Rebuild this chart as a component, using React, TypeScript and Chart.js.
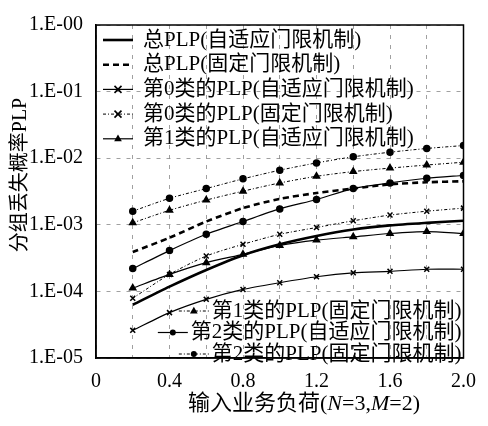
import React, { useEffect, useRef } from "react";
import { Chart, registerables } from "chart.js";

Chart.register(...registerables);

const xLoad = [0.2, 0.4, 0.6, 0.8, 1.0, 1.2, 1.4, 1.6, 1.8, 2.0];
const totalAdaptive = [6.3e-5, 1.18e-4, 2.1e-4, 3.5e-4, 5.1e-4, 6.8e-4, 8.5e-4, 9.8e-4, 1.07e-3, 1.15e-3];
const totalFixed = [3.9e-4, 6.4e-4, 1.12e-3, 1.78e-3, 2.45e-3, 3.0e-3, 3.5e-3, 4.05e-3, 4.35e-3, 4.5e-3];
const class0Adaptive = [2.6e-5, 4.8e-5, 7.6e-5, 1.07e-4, 1.35e-4, 1.66e-4, 1.9e-4, 2.0e-4, 2.15e-4, 2.15e-4];
const class0Fixed = [7.9e-5, 1.8e-4, 3.4e-4, 5.1e-4, 7.2e-4, 9.1e-4, 1.15e-3, 1.4e-3, 1.6e-3, 1.78e-3];
const class1Adaptive = [1.12e-4, 1.8e-4, 2.7e-4, 3.6e-4, 4.9e-4, 5.9e-4, 6.6e-4, 7.4e-4, 7.9e-4, 7.4e-4];
const class1Fixed = [1.07e-3, 1.65e-3, 2.35e-3, 3.2e-3, 4.25e-3, 5.35e-3, 6.3e-3, 7.1e-3, 7.9e-3, 8.7e-3];
const class2Adaptive = [2.2e-4, 4.1e-4, 7.2e-4, 1.12e-3, 1.73e-3, 2.4e-3, 3.5e-3, 4.25e-3, 5.0e-3, 5.5e-3];
const class2Fixed = [1.6e-3, 2.5e-3, 3.5e-3, 4.9e-3, 6.6e-3, 8.5e-3, 1.05e-2, 1.23e-2, 1.4e-2, 1.55e-2];

const seriesNames = [
  "总PLP(自适应门限机制)",
  "总PLP(固定门限机制)",
  "第0类的PLP(自适应门限机制)",
  "第0类的PLP(固定门限机制)",
  "第1类的PLP(自适应门限机制)",
  "第1类的PLP(固定门限机制)",
  "第2类的PLP(自适应门限机制)",
  "第2类的PLP(固定门限机制)",
];
const yDecades = [1e-5, 1e-4, 1e-3, 1e-2, 1e-1, 1];
const xTickLabels = ["0", "0.4", "0.8", "1.2", "1.6", "2.0"];
const yAxisTitle = "分组丢失概率PLP";
const xAxisTitleParts: [string, boolean][] = [
  ["输入业务负荷(", false],
  ["N", true],
  ["=3,", false],
  ["M", true],
  ["=2)", false],
];
const topLegendItems = [0, 1, 2, 3, 4];
const bottomLegendItems = [5, 6, 7];

const FONT = "'Liberation Serif', 'Noto Sans CJK SC', serif";
const DASHDOT = [3, 2, 1, 2];

function pts(ys: number[]) {
  return ys.map((y, i) => ({ x: xLoad[i], y }));
}

function drawMarker(ctx: CanvasRenderingContext2D, style: string, x: number, y: number, r: number) {
  ctx.save();
  ctx.setLineDash([]);
  ctx.fillStyle = "#000";
  ctx.strokeStyle = "#000";
  if (style === "circle") {
    ctx.beginPath();
    ctx.arc(x, y, r, 0, Math.PI * 2);
    ctx.fill();
  } else if (style === "triangle") {
    ctx.beginPath();
    ctx.moveTo(x, y - r * 1.2);
    ctx.lineTo(x + r * 1.1, y + r * 0.7);
    ctx.lineTo(x - r * 1.1, y + r * 0.7);
    ctx.closePath();
    ctx.fill();
  } else if (style === "crossRot") {
    ctx.lineWidth = 1.6;
    ctx.beginPath();
    ctx.moveTo(x - r, y - r);
    ctx.lineTo(x + r, y + r);
    ctx.moveTo(x + r, y - r);
    ctx.lineTo(x - r, y + r);
    ctx.stroke();
  }
  ctx.restore();
}

const decorPlugin = {
  id: "decor",
  afterDraw(chart: any) {
    const ctx: CanvasRenderingContext2D = chart.ctx;
    const a = chart.chartArea;
    ctx.save();
    // frame
    ctx.strokeStyle = "#000";
    ctx.lineWidth = 1.5;
    ctx.setLineDash([]);
    ctx.strokeRect(a.left, a.top, a.right - a.left, a.bottom - a.top);

    const legendFont = `21px ${FONT}`;
    ctx.font = legendFont;
    ctx.textBaseline = "middle";
    const drawSample = (dsIndex: number, x0: number, x1: number, y: number) => {
      const ds = chart.data.datasets[dsIndex];
      ctx.save();
      ctx.strokeStyle = "#000";
      ctx.lineWidth = ds.borderWidth;
      ctx.setLineDash(ds.borderDash || []);
      ctx.beginPath();
      ctx.moveTo(x0, y);
      ctx.lineTo(x1, y);
      ctx.stroke();
      ctx.restore();
      if (ds.pointRadius > 0) drawMarker(ctx, ds.pointStyle, (x0 + x1) / 2, y, ds.pointRadius);
    };
    // top-left legend
    topLegendItems.forEach((idx, i) => {
      const y = a.top + 15 + i * 24.7;
      drawSample(idx, a.left + 7, a.left + 37, y);
      ctx.fillStyle = "#000";
      ctx.textAlign = "left";
      ctx.fillText(seriesNames[idx], a.left + 47, y);
    });
    // bottom-right legend
    bottomLegendItems.forEach((idx, i) => {
      const y = a.bottom - 47 + i * 21.5;
      const xr = a.right - 2;
      const w = ctx.measureText(seriesNames[idx]).width;
      ctx.fillStyle = "#000";
      ctx.textAlign = "right";
      ctx.fillText(seriesNames[idx], xr, y);
      drawSample(idx, xr - w - 33, xr - w - 3, y);
    });

    // x axis title with italic letters
    const fontN = `22px ${FONT}`;
    const fontI = `italic 22px ${FONT}`;
    let total = 0;
    for (const [t, it] of xAxisTitleParts) {
      ctx.font = it ? fontI : fontN;
      total += ctx.measureText(t).width;
    }
    let x = 304 - total / 2;
    ctx.textAlign = "left";
    ctx.textBaseline = "middle";
    for (const [t, it] of xAxisTitleParts) {
      ctx.font = it ? fontI : fontN;
      ctx.fillText(t, x, 404);
      x += ctx.measureText(t).width;
    }
    // y axis title
    ctx.save();
    ctx.translate(21, 175);
    ctx.rotate(-Math.PI / 2);
    ctx.font = `20px ${FONT}`;
    ctx.textAlign = "center";
    ctx.textBaseline = "middle";
    ctx.fillText(yAxisTitle, 0, 0);
    ctx.restore();
    ctx.restore();
  },
};

export default function App() {
  const ref = useRef<HTMLCanvasElement>(null);
  useEffect(() => {
    const solid = (data: number[], style: string | false, r: number, w = 1.2) => ({
      data: pts(data),
      borderColor: "#000",
      backgroundColor: "#000",
      borderWidth: w,
      borderDash: [] as number[],
      pointStyle: style || "circle",
      pointRadius: style ? r : 0,
      pointBorderWidth: 1.5,
      tension: 0.25,
    });
    const datasets: any[] = [
      { ...solid(totalAdaptive, false, 0, 2.6), label: seriesNames[0] },
      { ...solid(totalFixed, false, 0, 2.6), borderDash: [6, 4], label: seriesNames[1] },
      { ...solid(class0Adaptive, "crossRot", 3.5), label: seriesNames[2] },
      { ...solid(class0Fixed, "crossRot", 3.5, 1), borderDash: DASHDOT, label: seriesNames[3] },
      { ...solid(class1Adaptive, "triangle", 3.5), label: seriesNames[4] },
      { ...solid(class1Fixed, "triangle", 3.5, 1), borderDash: DASHDOT, label: seriesNames[5] },
      { ...solid(class2Adaptive, "circle", 3), label: seriesNames[6] },
      { ...solid(class2Fixed, "circle", 3, 1), borderDash: DASHDOT, label: seriesNames[7] },
    ];
    const chart = new Chart(ref.current!, {
      type: "line",
      data: { datasets },
      plugins: [decorPlugin],
      options: {
        animation: false,
        responsive: false,
        devicePixelRatio: 1,
        layout: { padding: { top: 18, right: 12, left: 0, bottom: 0 } },
        plugins: { legend: { display: false }, tooltip: { enabled: false } },
        scales: {
          x: {
            type: "linear",
            min: 0,
            max: 2.0,
            afterFit: (s: any) => { s.height = 68; },
            ticks: {
              stepSize: 0.2,
              padding: 12,
              color: "#000",
              font: { family: FONT, size: 20 },
              maxRotation: 0,
              autoSkip: false,
              callback: (v: any) => {
                const i = Math.round(Number(v) / 0.4 * 1000) / 1000;
                return Number.isInteger(i) ? xTickLabels[i] : "";
              },
            },
            grid: { color: "#888", lineWidth: 0.8, drawTicks: false },
            border: { display: true, color: "#000", width: 1.5, dash: [4, 6] },
          },
          y: {
            type: "logarithmic",
            min: 1e-5,
            max: 1,
            afterFit: (s: any) => { s.width = 96; },
            afterBuildTicks: (s: any) => { s.ticks = yDecades.map((v) => ({ value: v })); },
            ticks: {
              padding: 13,
              color: "#000",
              font: { family: FONT, size: 20 },
              autoSkip: false,
              callback: (v: any) => {
                const n = Math.round(-Math.log10(Number(v)));
                return `1.E-${String(n).padStart(2, "0")}`;
              },
            },
            grid: { color: "#888", lineWidth: 0.8, drawTicks: false },
            border: { display: true, color: "#000", width: 1.5, dash: [4, 6] },
          },
        },
      },
    } as any);
    return () => chart.destroy();
  }, []);
  return (
    <div style={{ position: "fixed", left: 0, top: 0, width: 488, height: 426, background: "#fff" }}>
      <canvas ref={ref} width={488} height={426} style={{ width: 488, height: 426 }} />
    </div>
  );
}
